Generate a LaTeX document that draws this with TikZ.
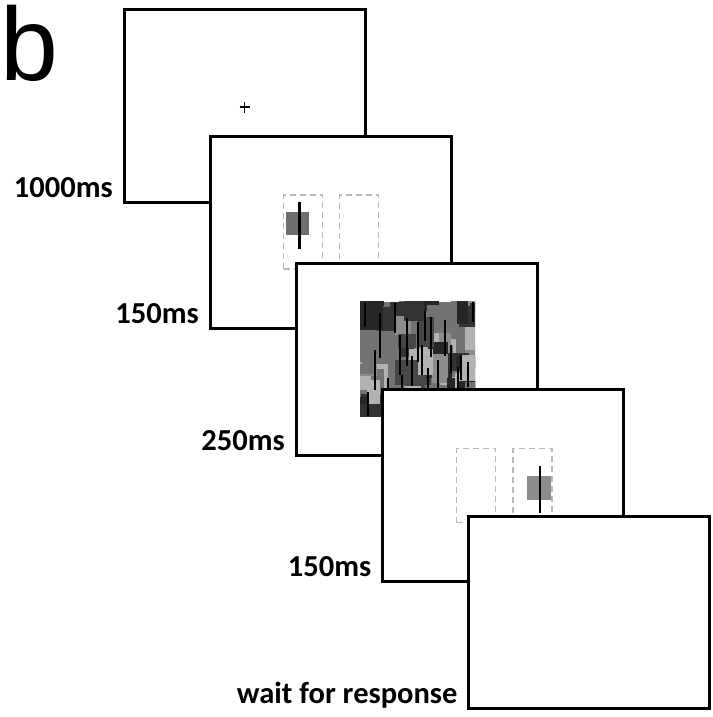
\documentclass[tikz,border=0pt]{standalone}
\usepackage{fontspec}
\newfontfamily\lblfont{Carlito}
\newfontfamily\bigfont{Liberation Sans}
\begin{document}
\begin{tikzpicture}[x=1pt,y=-1pt,
  screen/.style={draw=black, line width=3pt, fill=white, minimum width=241pt, minimum height=192pt, inner sep=0pt},
  lbl/.style={font=\lblfont\bfseries\fontsize{30.5}{30.5}\selectfont, anchor=base east, inner sep=0pt},
  cuebox/.style={draw=black!28, line width=1.4pt, dash pattern=on 6pt off 4pt, minimum width=39pt, minimum height=74pt, inner sep=0pt},
  bar/.style={draw=black, line width=2.6pt},
  maskbar/.style={draw=black, line width=2.8pt}
]
\useasboundingbox (0,0) rectangle (712,717);
\node[font=\bigfont\fontsize{104}{104}\selectfont, anchor=base west, inner sep=0pt] (panel) at (0,80) {b};

% frame 1
\node[screen] (f1) at (244.7,106) {};
\draw[line width=1.1pt] (239.5,107) -- (250,107) (244.7,102) -- (244.7,112.5);
\node[lbl] (l1) at (113,197) {1000ms};

% frame 2
\node[screen] (f2) at (330.8,232.5) {};
\node[cuebox] (c2a) at (303,232) {};
\node[cuebox] (c2b) at (359,232) {};
\fill[black!57] (285.7,211.7) rectangle (309,235);
\draw[bar] (299.3,201.7) -- (299.3,249.3);
\node[lbl] (l2) at (199,323.5) {150ms};

% frame 3 (mask)
\node[screen] (f3) at (416.9,359) {};
\begin{scope}
\clip (360,301.5) rectangle (475,416.5);
\fill[black!55] (360,301.5) rectangle (475,416.5);
\pgfmathsetseed{23}
\foreach \i in {1,...,80}{
  \pgfmathsetmacro{\rx}{350+random(0,120)}
  \pgfmathsetmacro{\ry}{292+random(0,120)}
  \pgfmathsetmacro{\rw}{random(10,32)}
  \pgfmathsetmacro{\rh}{random(10,32)}
  \pgfmathsetmacro{\rg}{{30,45,55,72,80,85}[random(0,5)]}
  \fill[black!\rg] (\rx,\ry) rectangle ++(\rw,\rh);
}
\foreach \bx/\by/\bl in {365/303/24, 375/350/40, 368/392/24, 380/313/45, 395/303/30, 400/335/40, 407/318/48, 412/356/30, 418/322/40, 425/311/30, 428/368/20, 431/317/40, 438/360/45, 445/320/36, 451/345/28, 458/367/25, 468/362/25, 473/302/20, 388/378/30, 402/375/25, 422/345/30, 461/355/25}{
  \draw[maskbar] (\bx,\by) -- ++(0,\bl);
}
\end{scope}
\node[lbl] (l3) at (285,450) {250ms};

% frame 4
\node[screen] (f4) at (503,485.5) {};
\node[cuebox] (c4a) at (476,485.5) {};
\node[cuebox] (c4b) at (532.5,485.5) {};
\fill[black!45] (527.3,476) rectangle (550.7,500);
\draw[bar] (540,466) -- (540,513.3);
\node[lbl] (l4) at (371.5,576.5) {150ms};

% frame 5
\node[screen] (f5) at (589.1,612) {};
\node[lbl] (l5) at (457.6,703) {wait for response};
\end{tikzpicture}
\end{document}
